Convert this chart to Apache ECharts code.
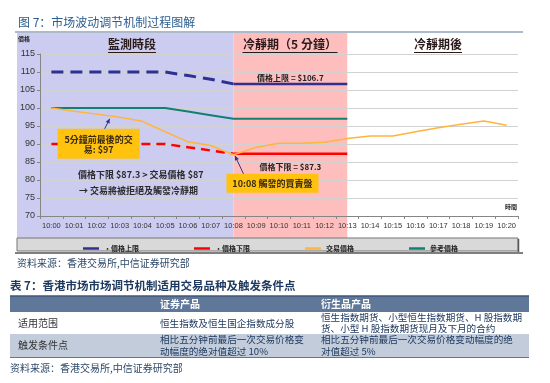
<!DOCTYPE html>
<html><head><meta charset="utf-8">
<script src="https://cdn.jsdelivr.net/npm/echarts@6/dist/echarts.min.js"></script>
<style>html,body{margin:0;padding:0;background:#fff}#c{width:550px;height:383px}</style>
</head><body><div id="c"></div>
<script>
// ---- data ----
const categories = ['10:00','10:01','10:02','10:03','10:04','10:05','10:06','10:07','10:08','10:09','10:10',
                    '10:11','10:12','10:13','10:14','10:15','10:16','10:17','10:18','10:19','10:20'];
const yMin = 70, yMax = 115, yStep = 5;
const upperMonitor = [110,110,110,110,110,110,109,108,106.7];
const upperCool    = [null,null,null,null,null,null,null,null,106.7,106.7,106.7,106.7,106.7,106.7];
const lowerMonitor = [90,90,90,90,90,90,89.1,88.2,87.3];
const lowerCool    = [null,null,null,null,null,null,null,null,87.3,87.3,87.3,87.3,87.3,87.3];
const tradePrice   = [100,99.1,98.3,97.4,96.3,93.4,90.6,89.6,87,89.1,90.2,90.2,90.5,91.5,92.2,92.2,93.4,94.5,95.5,96.4,95.2];
const refPrice     = [100,100,100,100,100,100,99,98,97,97,97,97,97,97];
const legendNames  = ['‧價格上限','‧價格下限','交易價格','參考價格'];
const coolStart = '10:08', coolEnd = '10:13', lastTradeTime = '10:03', lastTradeVal = 97, triggerVal = 87;
const phaseTitles = ['監測時段','冷靜期（5 分鐘）','冷靜期後'];
const figTitle = '图 7：市场波动调节机制过程图解';
const tableTitle = '表 7：香港市场市场调节机制适用交易品种及触发条件点';
const sourceText = '资料来源：香港交易所,中信证券研究部';
const tableHeader = ['证券产品','衍生品产品'];
const tableRows = [
  ['适用范围', ['恒生指数及恒生国企指数成分股'], ['恒生指数期货、小型恒生指数期货、H 股指数期','货、小型 H 股指数期货现月及下月的合约']],
  ['触发条件点', ['相比五分钟前最后一次交易价格变','动幅度的绝对值超过 10%'], ['相比五分钟前最后一次交易价格变动幅度的绝','对值超过 5%']]
];

const NAVY='#2E3192', RED='#FF0000', ORANGE='#FFB43C', TEAL='#12806E';
const CJK='"Noto Sans CJK TC","Noto Sans CJK SC",sans-serif';
const SC='"Noto Sans CJK SC",sans-serif';

const chart = echarts.init(document.getElementById('c'), null, {renderer:'canvas'});
chart.setOption({
  animation:false,
  backgroundColor:'#fff',
  grid:{left:40,right:32,top:54,bottom:167},
  legend:{
    data:legendNames,
    left:78, top:240, itemWidth:16, itemHeight:2.5, icon:'rect', itemGap:55,
    textStyle:{fontSize:7, fontWeight:'bold', color:'#222', fontFamily:CJK}
  },
  xAxis:{type:'category', data:categories, boundaryGap:true,
    axisLine:{lineStyle:{color:'#868686'}}, axisTick:{show:true,length:3,lineStyle:{color:'#868686'}},
    axisLabel:{interval:0, fontSize:7.5, color:'#333', margin:6, fontFamily:'Arial,"Liberation Sans"'}},
  yAxis:{type:'value', min:yMin, max:yMax, interval:yStep,
    axisLine:{show:true,lineStyle:{color:'#868686'}}, axisTick:{show:true,length:3,lineStyle:{color:'#868686'}},
    splitLine:{lineStyle:{color:'#D2D2D2'}},
    axisLabel:{fontSize:9, color:'#333', margin:5, fontFamily:'Arial,"Liberation Sans"'}},
  series:[
    {name:legendNames[0], type:'line', data:upperCool, symbol:'none', lineStyle:{color:NAVY,width:2.5}, itemStyle:{color:NAVY}, z:3},
    {name:'上限監測期', type:'line', data:upperMonitor, symbol:'none', lineStyle:{color:NAVY,width:3,type:[12,7]}, itemStyle:{color:NAVY}, z:3},
    {name:legendNames[1], type:'line', data:lowerCool, symbol:'none', lineStyle:{color:RED,width:2.5}, itemStyle:{color:RED}, z:3},
    {name:'下限監測期', type:'line', data:lowerMonitor, symbol:'none', lineStyle:{color:RED,width:2.5,type:[9,6]}, itemStyle:{color:RED}, z:3},
    {name:legendNames[2], type:'line', data:tradePrice, symbol:'none', lineStyle:{color:ORANGE,width:1.5}, itemStyle:{color:ORANGE}, z:5},
    {name:legendNames[3], type:'line', data:refPrice, symbol:'none', lineStyle:{color:TEAL,width:2}, itemStyle:{color:TEAL}, z:4}
  ]
});

function px(cat, val){ return chart.convertToPixel({xAxisIndex:0,yAxisIndex:0},[cat,val]); }
const x08 = px(coolStart, yMin)[0], x13 = px(coolEnd, yMin)[0];
const g = [];
function txt(t,x,y,font,fill,align,z){ g.push({type:'text', z:z||50, style:{text:t,x:x,y:y,font:font,fill:fill,textAlign:align||'left',textVerticalAlign:'middle'}}); }
function rect(x,y,w,h,fill,stroke,z,lw){ g.push({type:'rect', z:z==null?-10:z, shape:{x:x,y:y,width:w,height:h}, style:{fill:fill,stroke:stroke||null,lineWidth:lw||1}}); }
function line(x1,y1,x2,y2,c,w,z){ g.push({type:'line', z:z||50, shape:{x1:x1,y1:y1,x2:x2,y2:y2}, style:{stroke:c,lineWidth:w||1}}); }
function arrow(x1,y1,x2,y2,c){
  line(x1,y1,x2,y2,c,1,60);
  const a=Math.atan2(y2-y1,x2-x1), L=5, s=0.45;
  g.push({type:'polygon', z:60, shape:{points:[[x2,y2],[x2-L*Math.cos(a-s),y2-L*Math.sin(a-s)],[x2-L*Math.cos(a+s),y2-L*Math.sin(a+s)]]}, style:{fill:c}});
}

// title and top rule
txt(figTitle, 18, 22, '12px '+SC, '#2B5D8E');
line(15, 32, 523, 32, '#8FA5B8', 1.5, 1);
// phase backgrounds
rect(17, 33, x08-17, 205, '#CCCCF0');
rect(x08, 33, x13-x08, 205, '#FFBEBE');
// phase headers with underline
const hdr = [[132, phaseTitles[0], 48], [290, phaseTitles[1], 95], [438, phaseTitles[2], 48]];
hdr.forEach(h=>{ txt(h[1], h[0], 44, 'bold 12px '+CJK, '#2a1a1a', 'center'); line(h[0]-h[2]/2, 52.5, h[0]+h[2]/2, 52.5, '#2a1a1a', 1); });
// axis captions
txt('價格', 18, 39, 'bold 6px '+CJK, '#222');
txt('時間', 505, 207, 'bold 6px '+CJK, '#222');
// legend box
rect(17, 238, 501, 13, '#D9D9D9', '#777', -5);
line(15, 253, 523, 253, '#555', 1.5, 1);
line(518.5, 239, 518.5, 252, '#555', 1.5, 1);

// annotation: last trade 5 min earlier
const pt = px(lastTradeTime, lastTradeVal);
rect(pt[0]-62, pt[1]+10, 82, 30, '#FFC20E', null, 40);
txt('5分鐘前最後的交', pt[0]-21, pt[1]+20.5, 'bold 9px '+CJK, '#3a2a10', 'center');
txt('易: $97', pt[0]-21, pt[1]+31, 'bold 9px '+CJK, '#3a2a10', 'center');
arrow(pt[0]-15, pt[1]+10, pt[0]-10, pt[1], NAVY);
// rejection text
txt('價格下限 $87.3 > 交易價格 $87', 78, 175, 'bold 9px '+CJK, '#2b2b2b');
txt('→ 交易將被拒絕及觸發冷靜期', 79, 191, 'bold 9px '+CJK, '#2b2b2b');
// limit labels in cooling period
const mid = (x08+x13)/2;
txt('價格上限 = $106.7', mid, px(coolStart,106.7)[1]-6, 'bold 8px '+CJK, '#222', 'center');
txt('價格下限 = $87.3', mid, px(coolStart,87.3)[1]+13.5, 'bold 8px '+CJK, '#222', 'center');
// trigger box
const tp = px(coolStart, triggerVal);
rect(tp[0]-7, tp[1]+19, 92, 19, '#FFC20E', null, 40);
txt('10:08 觸發的買賣盤', tp[0]+39, tp[1]+28.5, 'bold 9px '+CJK, '#3a2a10', 'center');
arrow(tp[0]+10, tp[1]+19, tp[0]+1.5, tp[1]+1, NAVY);

// source 1
txt(sourceText, 17, 263, '10px '+SC, '#2F4A6A');
// table
txt(tableTitle, 10, 286, 'bold 11.5px '+SC, '#1F3A60');
rect(10, 296, 519, 16, '#5F7799', null, 1);
line(10, 296, 529, 296, '#3F5678', 1.5, 2);
txt(tableHeader[0], 160, 304, 'bold 10px '+SC, '#fff');
txt(tableHeader[1], 321, 304, 'bold 10px '+SC, '#fff');
const rowY = [312, 334], rowH = [22, 23];
tableRows.forEach((r,i)=>{
  if(i===1) rect(10, rowY[i], 519, rowH[i], '#C3CCDB', null, 1);
  const cy = rowY[i] + rowH[i]/2;
  txt(r[0], 18, cy, '10px '+SC, '#333');
  [r[1], r[2]].forEach((lines,j)=>{
    const x = j===0 ? 160 : 321;
    const n = lines.length;
    lines.forEach((l,k)=>{ txt(l, x, cy + (k-(n-1)/2)*11.5, '9.6px '+SC, '#1F3A60'); });
  });
});
line(10, 357.5, 529, 357.5, '#5F7799', 1.2, 2);
txt(sourceText, 10, 368, '10px '+SC, '#2F4A6A');

chart.setOption({graphic:g});
</script></body></html>
